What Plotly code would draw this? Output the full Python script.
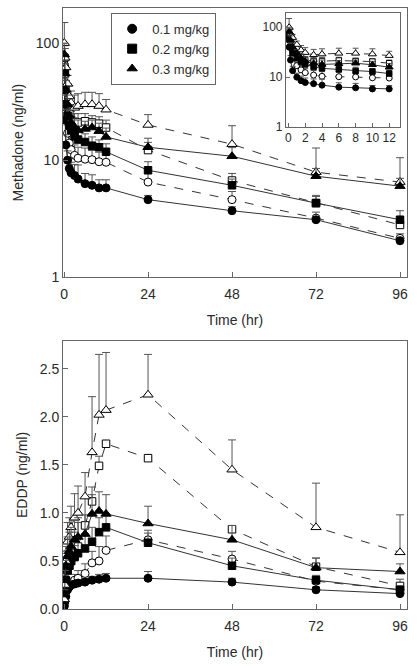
import plotly.graph_objects as go

# ---------------- data ----------------
time_hr = [0.083, 0.25, 0.5, 1, 1.5, 2, 3, 4, 6, 8, 10, 12, 24, 48, 72, 96]
doses = ["0.1 mg/kg", "0.2 mg/kg", "0.3 mg/kg"]

# Methadone (ng/ml): filled (solid) and open (dashed) series per dose
met_01_f = [40, 22, 13.5, 10, 8.5, 7.8, 7.4, 6.9, 6.3, 6.1, 5.8, 5.8, 4.6, 3.7, 3.1, 2.05]
met_01_o = [65, 40, 25, 17, 14, 12.3, 11, 10.4, 10.2, 10.1, 9.7, 9.6, 6.5, 4.6, 3.2, 2.15]
met_02_f = [60, 40, 30, 24, 20, 18, 16, 15, 14.3, 13.3, 12.9, 11.8, 8.2, 6.1, 4.3, 3.1]
met_02_o = [75, 55, 40, 30, 25, 22, 21, 21, 21.5, 21, 20.5, 19, 12.2, 6.7, 4.3, 2.8]
met_03_f = [80, 55, 40, 30, 24, 21, 19, 18, 18.5, 19, 17.7, 15.8, 12.9, 10.8, 7.3, 6.0]
met_03_o = [100, 75, 62, 45, 35, 31, 28, 29, 30, 30, 29, 27, 20, 13.7, 7.9, 6.5]

met_01_f_err = [10, 5, 3, 2, 2, 1.8, 1.8, 2.2, 1.4, 1.4, 1.0, 1.0, 0.4, 0.3, 0.2, 0.15]
met_01_o_err = [15, 8, 5, 3, 3, 2.5, 2.5, 2.5, 2.5, 2.0, 2.0, 2.0, 1.2, 0.8, 0.4, 0.2]
met_02_f_err = [15, 8, 6, 4, 4, 3, 3, 3, 2.5, 2.5, 2.0, 2.0, 1.5, 0.8, 0.6, 0.6]
met_02_o_err = [20, 10, 8, 6, 5, 4, 4, 4, 3.5, 3.0, 3.0, 3.0, 2.0, 1.0, 0.7, 0.5]
met_03_f_err = [20, 12, 8, 6, 5, 4, 4, 4, 3.0, 3.0, 3.0, 3.0, 2.5, 2.0, 1.2, 1.0]
met_03_o_err = [50, 15, 10, 8, 8, 8, 8, 8, 8, 8, 8, 6, 4.5, 6, 4.8, 4]

# EDDP (ng/ml)
eddp_01_f = [0.03, 0.08, 0.13, 0.2, 0.23, 0.25, 0.26, 0.27, 0.28, 0.3, 0.31, 0.32, 0.32, 0.28, 0.2, 0.16]
eddp_01_o = [0.06, 0.12, 0.18, 0.22, 0.24, 0.27, 0.3, 0.32, 0.37, 0.48, 0.5, 0.61, 0.72, 0.52, 0.29, 0.2]
eddp_02_f = [0.1, 0.2, 0.3, 0.4, 0.45, 0.5, 0.54, 0.58, 0.63, 0.7, 0.8, 0.85, 0.69, 0.45, 0.3, 0.2]
eddp_02_o = [0.2, 0.3, 0.43, 0.41, 0.45, 0.5, 0.55, 0.65, 0.87, 1.12, 1.49, 1.72, 1.57, 0.83, 0.44, 0.24]
eddp_03_f = [0.15, 0.3, 0.45, 0.55, 0.6, 0.65, 0.72, 0.75, 0.78, 0.99, 1.02, 0.99, 0.89, 0.72, 0.43, 0.39]
eddp_03_o = [0.1, 0.25, 0.5, 0.7, 0.75, 0.85, 0.95, 1.0, 1.17, 1.63, 2.02, 2.07, 2.23, 1.45, 0.85, 0.59]

eddp_01_f_err = [0.01, 0.02, 0.03, 0.03, 0.03, 0.03, 0.03, 0.03, 0.04, 0.04, 0.05, 0.05, 0.07, 0.04, 0.03, 0.02]
eddp_01_o_err = [0.02, 0.03, 0.05, 0.05, 0.05, 0.05, 0.06, 0.08, 0.1, 0.12, 0.15, 0.15, 0.1, 0.08, 0.05, 0.03]
eddp_02_f_err = [0.05, 0.08, 0.1, 0.12, 0.12, 0.12, 0.12, 0.15, 0.15, 0.15, 0.15, 0.12, 0.1, 0.08, 0.05, 0.04]
eddp_02_o_err = [0.08, 0.1, 0.15, 0.2, 0.2, 0.25, 0.25, 0.25, 0.3, 0.15, 0.1, 0.0, 0.0, 0.0, 0.09, 0.07]
eddp_03_f_err = [0.05, 0.1, 0.15, 0.2, 0.2, 0.2, 0.2, 0.2, 0.2, 0.2, 0.2, 0.2, 0.18, 0.15, 0.1, 0.08]
eddp_03_o_err = [0.05, 0.1, 0.15, 0.2, 0.2, 0.22, 0.25, 0.28, 0.25, 0.58, 0.63, 0.6, 0.42, 0.31, 0.46, 0.39]

met_ticks = [1, 10, 100]
inset_x_ticks = [0, 2, 4, 6, 8, 10, 12]
time_ticks = [0, 24, 48, 72, 96]
eddp_ticks = [0.0, 0.5, 1.0, 1.5, 2.0, 2.5]

# ---------------- styling ----------------
FONT = "Liberation Sans, Arial, sans-serif"
TXT = "#2a2a2a"
AX = "#666666"
LINE = "#333333"
ERR = "#555555"
symbols = ["circle", "square", "triangle-up"]
sizes = [8, 7.5, 9]

fig = go.Figure()

def add_series(x, y, err, xa, ya, filled, k, msize, capw=4):
    fig.add_trace(go.Scatter(
        x=x, y=y, xaxis=xa, yaxis=ya, mode="lines+markers", showlegend=False,
        line=dict(color=LINE, width=1, dash="solid" if filled else "dash"),
        marker=dict(symbol=symbols[k], size=msize,
                    color="black" if filled else "white",
                    line=dict(color="black", width=1)),
        error_y=dict(type="data", array=err, arrayminus=[0] * len(err),
                     symmetric=False, color=ERR, thickness=1, width=capw),
    ))

met_sets = [(met_01_f, met_01_f_err, met_01_o, met_01_o_err),
            (met_02_f, met_02_f_err, met_02_o, met_02_o_err),
            (met_03_f, met_03_f_err, met_03_o, met_03_o_err)]
eddp_sets = [(eddp_01_f, eddp_01_f_err, eddp_01_o, eddp_01_o_err),
             (eddp_02_f, eddp_02_f_err, eddp_02_o, eddp_02_o_err),
             (eddp_03_f, eddp_03_f_err, eddp_03_o, eddp_03_o_err)]

n_in = sum(1 for t in time_hr if t <= 12)

for k, (f, fe, o, oe) in enumerate(met_sets):
    add_series(time_hr, o, oe, "x", "y", False, k, sizes[k])
    add_series(time_hr, f, fe, "x", "y", True, k, sizes[k])
    # inset
    add_series(time_hr[:n_in], o[:n_in], oe[:n_in], "x3", "y3", False, k, sizes[k] - 2, 3)
    add_series(time_hr[:n_in], f[:n_in], fe[:n_in], "x3", "y3", True, k, sizes[k] - 2, 3)

for k, (f, fe, o, oe) in enumerate(eddp_sets):
    add_series(time_hr, o, oe, "x2", "y2", False, k, sizes[k])
    add_series(time_hr, f, fe, "x2", "y2", True, k, sizes[k])

for k, name in enumerate(doses):
    fig.add_trace(go.Scatter(
        x=[None], y=[None], mode="markers", name=name, xaxis="x", yaxis="y",
        marker=dict(symbol=symbols[k], size=9, color="black", line=dict(color="black", width=1)),
    ))

axis_common = dict(showline=True, linecolor=AX, linewidth=1, mirror=True, ticks="inside",
                   ticklen=5, tickcolor=AX, showgrid=False, zeroline=False,
                   tickfont=dict(family=FONT, size=14, color=TXT))
title_font = dict(size=14, family=FONT, color=TXT)

fig.update_layout(
    width=417, height=668,
    margin=dict(l=63, r=10, t=8, b=59),
    paper_bgcolor="white", plot_bgcolor="white",
    font=dict(family=FONT, color=TXT),
    xaxis=dict(domain=[0, 1], anchor="y", range=[-0.3, 98], tickvals=time_ticks,
               ticklabelstandoff=4,
               title=dict(text="Time (hr)", font=title_font, standoff=14),
               **axis_common),
    yaxis=dict(domain=[0.552, 1.0], anchor="x", type="log", range=[0, 2.3], tickvals=met_ticks,
               ticktext=[str(v) for v in met_ticks],
               title=dict(text="Methadone (ng/ml)", font=title_font, standoff=8),
               **axis_common),
    xaxis2=dict(domain=[0, 1], anchor="y2", range=[-0.3, 98], tickvals=time_ticks,
                ticklabelstandoff=4,
                title=dict(text="Time (hr)", font=title_font, standoff=14),
                **axis_common),
    yaxis2=dict(domain=[0.0, 0.446], anchor="x2", range=[0, 2.79], tickvals=eddp_ticks,
                tickformat=".1f",
                title=dict(text="EDDP (ng/ml)", font=title_font, standoff=8),
                **axis_common),
    xaxis3=dict(domain=[0.648, 0.980], anchor="y3", range=[-0.3, 13.3], tickvals=inset_x_ticks,
                **{**axis_common, "tickfont": dict(family=FONT, size=12, color=TXT), "ticklen": 4}),
    yaxis3=dict(domain=[0.802, 0.992], anchor="x3", type="log", range=[0, 2.29], tickvals=met_ticks,
                ticktext=[str(v) for v in met_ticks],
                **{**axis_common, "tickfont": dict(family=FONT, size=12, color=TXT), "ticklen": 4}),
    legend=dict(x=0.14, y=0.992, xanchor="left", yanchor="top",
                bgcolor="white", bordercolor=AX, borderwidth=1,
                font=dict(family=FONT, size=13, color=TXT), itemwidth=30, tracegroupgap=0),
)

fig.write_html("out.html", config={"displayModeBar": False},
               post_script="document.body.style.margin='0';document.body.style.overflow='hidden';")
